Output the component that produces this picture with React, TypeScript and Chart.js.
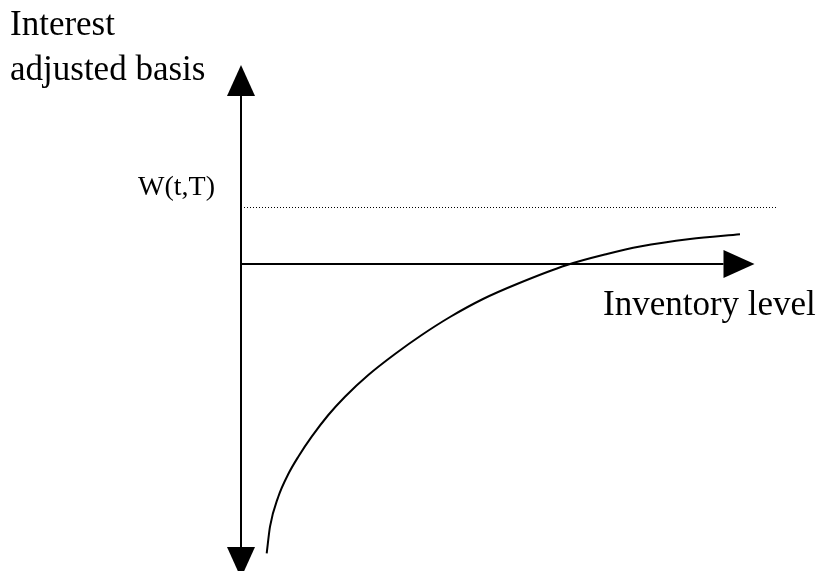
import React, { useEffect, useRef } from "react";
import { Chart, registerables } from "chart.js";

Chart.register(...registerables);

// Schematic units: inventory level (x) and interest adjusted basis (y); origin at axis crossing
const curveX = [2.57, 2.9, 3.73, 4.73, 5.73, 7.07, 8.73, 10.4, 12.73, 15.4, 18.07, 20.9, 24.2, 27.6, 32.6, 36.6, 39.9, 44.9, 49.9];
const curveY = [-28.93, -26.27, -23.27, -21.0, -19.27, -17.27, -15.1, -13.27, -11.1, -9.0, -7.1, -5.3, -3.5, -2.0, -0.1, 1.0, 1.75, 2.5, 2.97];

const wLevel = 5.65; // W(t,T)
const wLineX = [0.3, 53.6];

const yAxisTop = 19.9;
const yAxisBottom = -31.4;
const xAxisEnd = 51.35;

const xMin = -24.1;
const xMax = 57.6;
const yMin = -30.7;
const yMax = 26.4;

const labelY1 = "Interest";
const labelY2 = "adjusted basis";
const labelX = "Inventory level";
const labelW = "W(t,T)";

const FONT = '"Liberation Serif", "Times New Roman", serif';

const axesPlugin = {
  id: "schematicAxes",
  afterDatasetsDraw(chart: any) {
    const { ctx, scales } = chart;
    const xs = scales.x;
    const ys = scales.y;
    const ox = xs.getPixelForValue(0);
    const oy = ys.getPixelForValue(0);
    const arrowLen = 31;
    const half = 14;
    ctx.save();
    ctx.strokeStyle = "#000";
    ctx.fillStyle = "#000";
    ctx.lineWidth = 2;

    const drawArrow = (tx: number, ty: number, dx: number, dy: number) => {
      const bx = tx - dx * arrowLen;
      const by = ty - dy * arrowLen;
      ctx.beginPath();
      ctx.moveTo(ox, oy);
      ctx.lineTo(bx, by);
      ctx.stroke();
      ctx.beginPath();
      ctx.moveTo(tx, ty);
      ctx.lineTo(bx - dy * half, by + dx * half);
      ctx.lineTo(bx + dy * half, by - dx * half);
      ctx.closePath();
      ctx.fill();
    };

    drawArrow(ox, ys.getPixelForValue(yAxisTop), 0, -1);
    drawArrow(ox, ys.getPixelForValue(yAxisBottom), 0, 1);
    drawArrow(xs.getPixelForValue(xAxisEnd), oy, 1, 0);

    ctx.textBaseline = "alphabetic";
    ctx.textAlign = "left";
    ctx.font = `35px ${FONT}`;
    ctx.fillText(labelY1, 10, 35);
    ctx.fillText(labelY2, 10, 80);
    ctx.fillText(labelX, 603, 315);
    ctx.font = `28px ${FONT}`;
    ctx.fillText(labelW, 138, 195);
    ctx.restore();
  },
};

export default function App() {
  const ref = useRef<HTMLCanvasElement | null>(null);

  useEffect(() => {
    if (!ref.current) return;
    const chart = new Chart(ref.current, {
      type: "line",
      data: {
        datasets: [
          {
            data: wLineX.map((x) => ({ x, y: wLevel })),
            borderColor: "#000",
            borderWidth: 1,
            borderDash: [1, 2],
            pointRadius: 0,
            fill: false,
          },
          {
            data: curveX.map((x, i) => ({ x, y: curveY[i] })),
            borderColor: "#000",
            borderWidth: 2,
            pointRadius: 0,
            cubicInterpolationMode: "monotone",
            fill: false,
          },
        ],
      },
      options: {
        responsive: false,
        animation: false,
        clip: false as any,
        layout: { padding: 0 },
        plugins: {
          legend: { display: false },
          tooltip: { enabled: false },
        },
        scales: {
          x: { type: "linear", min: xMin, max: xMax, display: false },
          y: { type: "linear", min: yMin, max: yMax, display: false },
        },
      },
      plugins: [axesPlugin],
    });
    return () => chart.destroy();
  }, []);

  return (
    <div style={{ position: "fixed", left: 0, top: 0, width: 817, height: 571, background: "#fff" }}>
      <canvas ref={ref} width={817} height={571} style={{ display: "block" }} />
    </div>
  );
}
